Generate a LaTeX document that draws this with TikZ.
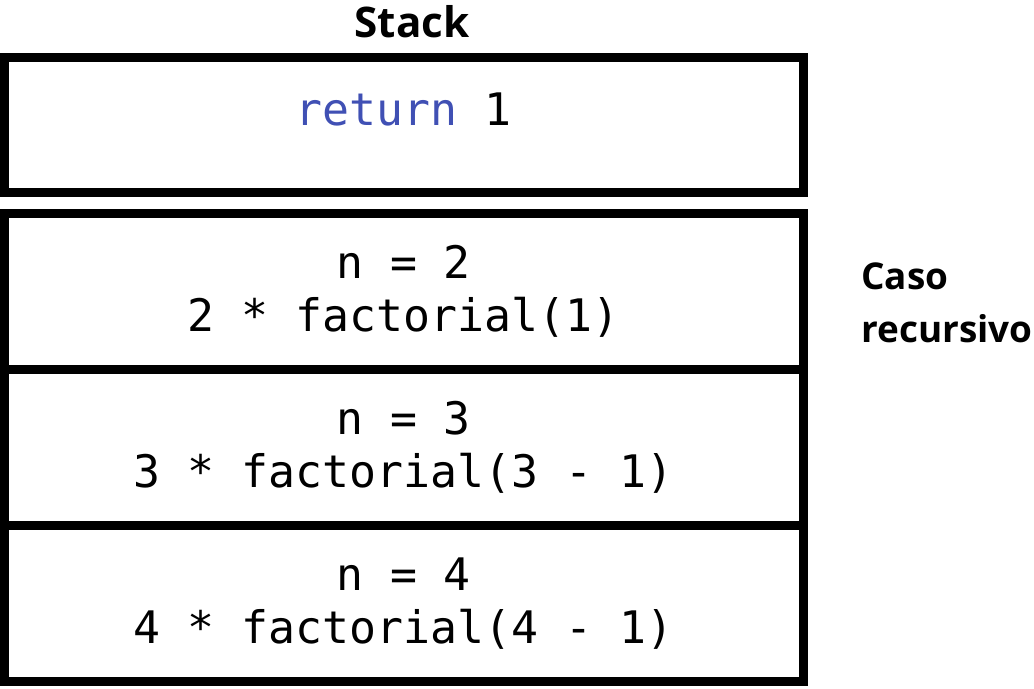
\documentclass[tikz,border=0pt]{standalone}
\usepackage{fontspec}
\setmainfont{Open Sans}
\setmonofont{DejaVu Sans Mono}
\usetikzlibrary{positioning}
\tikzset{
    %Frames of the call stack
    frame/.style={draw, line width=0.18cm, outer sep=0pt, minimum width=15.98cm, minimum height=3.12cm, font=\ttfamily\fontsize{25.5pt}{30pt}\selectfont, align=center}
}
\definecolor{keywordblue}{RGB}{64,80,180}

\begin{document}
\begin{tikzpicture}

	\useasboundingbox (0,0) rectangle (20.68,-13.76);

	\node (stack) at (8.24, -0.74) [anchor=base, font=\bfseries\fontsize{24pt}{28pt}\selectfont] {Stack};

	\node (base) at (8.07, -2.495) [frame, minimum height=2.69cm] {};
	\node (ret) at (8.07, -2.5) [anchor=base, font=\ttfamily\fontsize{25.5pt}{30pt}\selectfont] {\textcolor{keywordblue}{return} 1};

	\node (call2) at (8.07, -5.83) [frame] {n = 2\\2 * factorial(1)};
	\node (call3) [frame, below=0cm of call2] {n = 3\\3 * factorial(3 - 1)};
	\node (call4) [frame, below=0cm of call3] {n = 4\\4 * factorial(4 - 1)};

	\node (recursive) at (17.22, -6.06) [anchor=west, inner sep=0pt, align=left, font=\bfseries\fontsize{21pt}{30pt}\selectfont] {Caso\\recursivo};

\end{tikzpicture}
\end{document}
